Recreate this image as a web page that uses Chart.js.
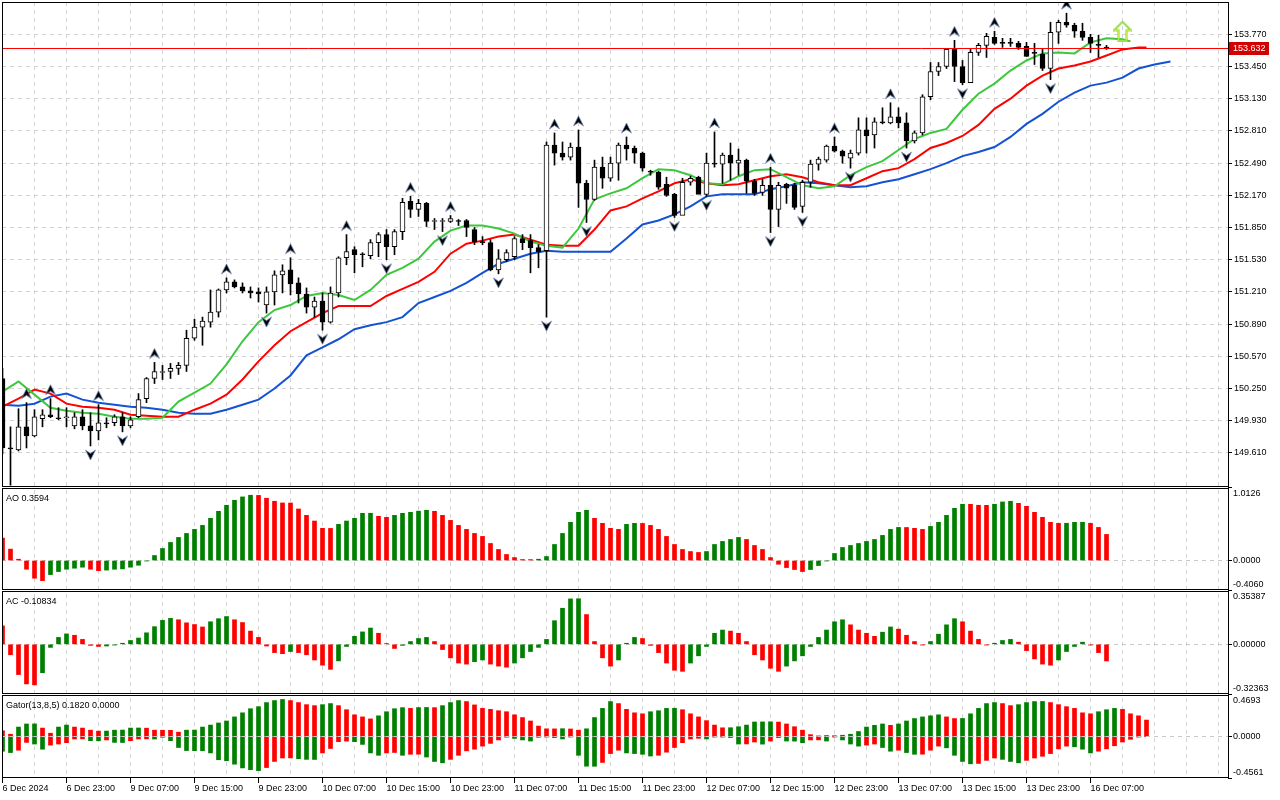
<!DOCTYPE html>
<html>
<head>
<meta charset="utf-8">
<title>USDJPY H1 - Alligator, AO, AC, Gator</title>
<script src="https://cdn.jsdelivr.net/npm/chart.js@4.4.1/dist/chart.umd.min.js"></script>
<style>
  html, body { margin: 0; padding: 0; background: #fff; }
  #wrap { width: 1280px; height: 800px; }
</style>
</head>
<body>
<div id="wrap"><canvas id="chart" width="1280" height="800"></canvas></div>
<script>
// ---- candles (H1 bars, bar 0 = 6 Dec 15:00) ----
const opens = [
  150.35, 149.66, 149.64, 149.87, 149.78, 149.95, 149.99, 149.96, 149.96, 149.88,
  149.97, 149.88, 149.83, 149.91, 149.91, 149.97, 149.88, 149.97, 150.15, 150.35,
  150.41, 150.42, 150.45, 150.48, 150.75, 150.86, 150.91, 151.01, 151.23, 151.31,
  151.26, 151.22, 151.21, 151.08, 151.21, 151.38, 151.43, 151.30, 151.19, 151.06,
  151.12, 150.91, 151.20, 151.55, 151.63, 151.59, 151.57, 151.70, 151.78, 151.66,
  151.81, 152.11, 152.03, 152.09, 151.91, 151.91, 151.91, 151.92, 151.92, 151.83,
  151.71, 151.70, 151.43, 151.53, 151.56, 151.74, 151.72, 151.65, 151.62, 152.67,
  152.59, 152.55, 152.65, 152.29, 152.13, 152.45, 152.34, 152.49, 152.67, 152.64,
  152.59, 152.405, 152.40, 152.28, 152.18, 151.97, 152.30, 152.35, 152.18, 152.49,
  152.48, 152.57, 152.49, 152.52, 152.31, 152.20, 152.27, 152.03, 152.28, 152.27,
  152.06, 152.30, 152.48, 152.52, 152.66, 152.61, 152.54, 152.59, 152.82, 152.77,
  152.90, 152.89, 152.95, 152.89, 152.71, 152.79, 153.15, 153.40, 153.45, 153.62,
  153.45, 153.29, 153.59, 153.66, 153.74, 153.685, 153.685, 153.68, 153.65, 153.585,
  153.57, 153.43, 153.79, 153.89, 153.86, 153.80, 153.74, 153.665, 153.64
];
const highs = [
  150.45, 149.87, 150.05, 150.11, 150.04, 150.04, 150.15, 150.06, 150.06, 150.01,
  150.04, 150.01, 150.09, 149.96, 149.99, 150.01, 149.97, 150.20, 150.36, 150.51,
  150.48, 150.50, 150.51, 150.83, 150.94, 150.96, 151.23, 151.24, 151.35, 151.33,
  151.30, 151.26, 151.25, 151.26, 151.42, 151.48, 151.55, 151.35, 151.25, 151.16,
  151.20, 151.26, 151.56, 151.78, 151.66, 151.60, 151.73, 151.80, 151.83, 151.83,
  152.14, 152.16, 152.13, 152.10, 151.94, 151.94, 151.97, 151.93, 151.93, 151.85,
  151.76, 151.73, 151.63, 151.63, 151.76, 151.78, 151.78, 151.68, 152.70, 152.79,
  152.70, 152.69, 152.82, 152.32, 152.52, 152.55, 152.55, 152.69, 152.75, 152.66,
  152.60, 152.42, 152.41, 152.35, 152.19, 152.34, 152.36, 152.36, 152.59, 152.80,
  152.59, 152.69, 152.63, 152.53, 152.33, 152.33, 152.45, 152.30, 152.29, 152.29,
  152.32, 152.52, 152.55, 152.67, 152.75, 152.62, 152.62, 152.94, 152.94, 152.94,
  153.04, 153.09, 153.04, 152.99, 152.81, 153.17, 153.49, 153.49, 153.63, 153.71,
  153.51, 153.62, 153.68, 153.78, 153.80, 153.73, 153.73, 153.70, 153.69, 153.68,
  153.63, 153.89, 153.91, 153.98, 153.88, 153.88, 153.77, 153.76, 153.66
];
const lows = [
  149.60, 149.29, 149.63, 149.66, 149.77, 149.87, 149.96, 149.94, 149.87, 149.85,
  149.84, 149.68, 149.74, 149.86, 149.88, 149.82, 149.86, 149.96, 150.11, 150.30,
  150.34, 150.35, 150.39, 150.42, 150.73, 150.68, 150.86, 150.96, 151.20, 151.25,
  151.20, 151.15, 151.11, 151.00, 151.08, 151.20, 151.18, 151.10, 151.00, 150.96,
  150.83, 150.90, 151.16, 151.48, 151.40, 151.46, 151.54, 151.56, 151.53, 151.58,
  151.73, 151.95, 151.96, 151.86, 151.83, 151.81, 151.90, 151.87, 151.76, 151.68,
  151.68, 151.42, 151.39, 151.51, 151.53, 151.63, 151.40, 151.45, 150.96, 152.47,
  152.52, 152.52, 152.05, 151.90, 152.12, 152.24, 152.31, 152.32, 152.52, 152.49,
  152.41, 152.37, 152.23, 152.16, 151.95, 151.98, 152.27, 152.20, 152.16, 152.45,
  152.29, 152.32, 152.37, 152.19, 152.17, 152.17, 151.80, 151.86, 152.09, 152.03,
  152.00, 152.25, 152.42, 152.50, 152.60, 152.49, 152.44, 152.57, 152.59, 152.64,
  152.88, 152.88, 152.84, 152.64, 152.69, 152.77, 153.12, 153.36, 153.43, 153.30,
  153.27, 153.30, 153.56, 153.54, 153.67, 153.64, 153.65, 153.62, 153.55, 153.47,
  153.41, 153.32, 153.68, 153.84, 153.74, 153.71, 153.59, 153.54, 153.62
];
const closes = [
  149.66, 149.65, 149.87, 149.78, 149.97, 149.99, 149.97, 149.95, 149.96, 149.97,
  149.88, 149.83, 149.91, 149.90, 149.97, 149.88, 149.94, 150.14, 150.35, 150.42,
  150.41, 150.45, 150.48, 150.75, 150.86, 150.92, 151.01, 151.23, 151.31, 151.26,
  151.22, 151.20, 151.19, 151.21, 151.38, 151.42, 151.29, 151.19, 151.06, 151.12,
  150.91, 151.20, 151.55, 151.61, 151.58, 151.58, 151.70, 151.78, 151.66, 151.81,
  152.10, 152.03, 152.09, 151.91, 151.91, 151.92, 151.94, 151.91, 151.85, 151.71,
  151.70, 151.43, 151.54, 151.60, 151.74, 151.70, 151.65, 151.61, 152.67, 152.59,
  152.55, 152.65, 152.29, 152.13, 152.45, 152.34, 152.49, 152.67, 152.63, 152.59,
  152.44, 152.40, 152.25, 152.17, 151.97, 152.30, 152.34, 152.18, 152.49, 152.48,
  152.57, 152.49, 152.52, 152.31, 152.19, 152.27, 152.03, 152.27, 152.24, 152.05,
  152.30, 152.48, 152.53, 152.66, 152.61, 152.56, 152.59, 152.82, 152.76, 152.90,
  152.89, 152.95, 152.89, 152.71, 152.79, 153.15, 153.40, 153.45, 153.62, 153.45,
  153.29, 153.59, 153.66, 153.75, 153.68, 153.68, 153.68, 153.64, 153.55, 153.58,
  153.43, 153.79, 153.89, 153.86, 153.80, 153.74, 153.68, 153.66, 153.632
];

// ---- fractals (bar numbers) ----
const fractalUpBars = [3, 6, 12, 19, 28, 36, 43, 51, 56, 69, 72, 78, 89, 96, 104, 111, 119, 124, 133];
const fractalDownBars = [1, 11, 15, 33, 40, 48, 55, 62, 68, 73, 84, 88, 96, 100, 106, 113, 120, 131];

// ---- buy signal arrow ----
const signalBars = [140];
const signalPrices = [153.80];

// ---- Alligator (read every second bar, shifted forward) ----
const jawBars = [
  0, 2, 4, 6, 8, 10, 12, 14, 16, 18, 20, 22, 24, 26, 28, 30, 32, 34, 36, 38,
  40, 42, 44, 46, 48, 50, 52, 54, 56, 58, 60, 62, 64, 66, 68, 70, 72, 74, 76, 78,
  80, 82, 84, 86, 88, 90, 92, 94, 96, 98, 100, 102, 104, 106, 108, 110, 112, 114, 116, 118,
  120, 122, 124, 126, 128, 130, 132, 134, 136, 138, 140, 142, 144, 146
];
const jawValues = [
  150.09, 150.08, 150.10, 150.17, 150.20, 150.14, 150.11, 150.09, 150.07, 150.06,
  150.04, 150.01, 150.00, 150.00, 150.04, 150.09, 150.14, 150.25, 150.38, 150.58,
  150.66, 150.74, 150.84, 150.88, 150.91, 150.96, 151.10, 151.16, 151.22, 151.30,
  151.40, 151.49, 151.54, 151.59, 151.62, 151.61, 151.61, 151.61, 151.61, 151.74,
  151.88, 151.92, 151.98, 152.06, 152.16, 152.18, 152.18, 152.18, 152.23, 152.26,
  152.30, 152.29, 152.27, 152.25, 152.26, 152.30, 152.33, 152.38, 152.43, 152.49,
  152.56, 152.60, 152.65, 152.75, 152.88, 152.98, 153.10, 153.19, 153.26, 153.29,
  153.34, 153.43, 153.47, 153.50
];
const teethBars = [
  0, 2, 4, 6, 8, 10, 12, 14, 16, 18, 20, 22, 24, 26, 28, 30, 32, 34, 36, 38,
  40, 42, 44, 46, 48, 50, 52, 54, 56, 58, 60, 62, 64, 66, 68, 70, 72, 74, 76, 78,
  80, 82, 84, 86, 88, 90, 92, 94, 96, 98, 100, 102, 104, 106, 108, 110, 112, 114, 116, 118,
  120, 122, 124, 126, 128, 130, 132, 134, 136, 138, 140, 142, 143
];
const teethValues = [
  150.07, 150.15, 150.24, 150.20, 150.10, 150.07, 150.06, 150.04, 149.99, 149.98,
  149.97, 149.97, 150.04, 150.10, 150.19, 150.34, 150.52, 150.68, 150.82, 150.91,
  151.00, 151.07, 151.07, 151.07, 151.17, 151.24, 151.31, 151.41, 151.59, 151.69,
  151.72, 151.76, 151.78, 151.73, 151.68, 151.67, 151.67, 151.83, 152.02, 152.06,
  152.14, 152.21, 152.29, 152.33, 152.29, 152.27, 152.28, 152.32, 152.36, 152.38,
  152.35, 152.30, 152.27, 152.27, 152.34, 152.41, 152.44, 152.53, 152.64, 152.69,
  152.76, 152.87, 153.03, 153.13, 153.26, 153.36, 153.43, 153.46, 153.50, 153.56,
  153.62, 153.64, 153.64
];
const lipsBars = [
  0, 2, 4, 6, 8, 10, 12, 14, 16, 18, 20, 22, 24, 26, 28, 30, 32, 34, 36, 38,
  40, 42, 44, 46, 48, 50, 52, 54, 56, 58, 60, 62, 64, 66, 68, 70, 72, 74, 76, 78,
  80, 82, 84, 86, 88, 90, 92, 94, 96, 98, 100, 102, 104, 106, 108, 110, 112, 114, 116, 118,
  120, 122, 124, 126, 128, 130, 132, 134, 136, 138, 140, 141
];
const lipsValues = [
  150.22, 150.32, 150.19, 150.06, 150.03, 150.01, 150.00, 149.97, 149.95, 149.95,
  149.96, 150.12, 150.21, 150.30, 150.49, 150.72, 150.91, 151.03, 151.08, 151.17,
  151.20, 151.18, 151.13, 151.23, 151.38, 151.45, 151.54, 151.71, 151.82, 151.87,
  151.87, 151.84, 151.79, 151.71, 151.67, 151.65, 151.84, 152.13, 152.19, 152.24,
  152.34, 152.43, 152.42, 152.37, 152.29, 152.28, 152.36, 152.42, 152.43, 152.35,
  152.27, 152.24, 152.26, 152.37, 152.45, 152.51, 152.62, 152.73, 152.79, 152.83,
  153.02, 153.18, 153.28, 153.41, 153.51, 153.58, 153.59, 153.58, 153.69, 153.73,
  153.72, 153.70
];

// ---- Awesome Oscillator ----
const aoValues = [
  0.309, 0.157, 0.018, -0.120, -0.244, -0.277, -0.194, -0.152, -0.120, -0.106,
  -0.092, -0.120, -0.140, -0.132, -0.120, -0.115, -0.092, -0.065, -0.005, 0.069,
  0.166, 0.249, 0.318, 0.373, 0.429, 0.484, 0.581, 0.678, 0.761, 0.830,
  0.876, 0.899, 0.897, 0.858, 0.816, 0.793, 0.792, 0.710, 0.622, 0.544,
  0.443, 0.442, 0.498, 0.544, 0.581, 0.650, 0.651, 0.609, 0.595, 0.622,
  0.650, 0.664, 0.680, 0.692, 0.678, 0.622, 0.553, 0.484, 0.429, 0.373,
  0.332, 0.235, 0.152, 0.083, 0.041, 0.014, 0.013, 0.018, 0.055, 0.221,
  0.373, 0.526, 0.664, 0.692, 0.581, 0.512, 0.443, 0.429, 0.498, 0.512,
  0.511, 0.484, 0.429, 0.332, 0.221, 0.152, 0.124, 0.111, 0.124, 0.221,
  0.263, 0.290, 0.318, 0.290, 0.207, 0.152, 0.041, -0.051, -0.097, -0.124,
  -0.152, -0.124, -0.069, -0.005, 0.097, 0.180, 0.207, 0.235, 0.263, 0.290,
  0.346, 0.429, 0.456, 0.455, 0.443, 0.429, 0.470, 0.526, 0.622, 0.719,
  0.775, 0.774, 0.761, 0.760, 0.775, 0.807, 0.816, 0.788, 0.747, 0.664,
  0.595, 0.526, 0.512, 0.513, 0.526, 0.527, 0.512, 0.456, 0.3594
];

// ---- Accelerator Oscillator ----
const acValues = [
  0.120, -0.068, -0.197, -0.258, -0.264, -0.185, -0.020, 0.045, 0.068, 0.059,
  0.032, -0.007, -0.014, -0.011, -0.005, 0.007, 0.025, 0.041, 0.075, 0.115,
  0.156, 0.169, 0.160, 0.140, 0.129, 0.113, 0.147, 0.167, 0.181, 0.160,
  0.142, 0.086, 0.045, -0.011, -0.054, -0.061, -0.047, -0.054, -0.068, -0.102,
  -0.136, -0.163, -0.108, -0.014, 0.052, 0.081, 0.106, 0.072, 0.005, -0.027,
  -0.007, 0.018, 0.038, 0.045, 0.018, -0.034, -0.088, -0.122, -0.129, -0.113,
  -0.102, -0.129, -0.142, -0.149, -0.122, -0.088, -0.047, -0.020, 0.032, 0.154,
  0.235, 0.296, 0.297, 0.194, 0.018, -0.088, -0.142, -0.102, 0.007, 0.045,
  0.038, -0.007, -0.054, -0.122, -0.169, -0.176, -0.122, -0.075, -0.014, 0.072,
  0.093, 0.086, 0.072, 0.018, -0.068, -0.102, -0.156, -0.176, -0.142, -0.108,
  -0.075, -0.014, 0.045, 0.093, 0.147, 0.160, 0.127, 0.093, 0.072, 0.052,
  0.079, 0.113, 0.099, 0.059, 0.018, -0.005, 0.018, 0.066, 0.127, 0.167,
  0.147, 0.086, 0.032, -0.005, 0.007, 0.025, 0.032, 0.014, -0.041, -0.095,
  -0.129, -0.136, -0.102, -0.047, -0.014, 0.014, -0.005, -0.054, -0.10834
];

// ---- Gator Oscillator (13,8,5) ----
const gatorUp = [
  0.064, 0.026, 0.105, 0.139, 0.140, 0.094, 0.037, 0.105, 0.127, 0.105,
  0.094, 0.071, 0.060, 0.061, 0.071, 0.072, 0.094, 0.095, 0.093, 0.071,
  0.070, 0.069, 0.049, 0.071, 0.072, 0.105, 0.127, 0.150, 0.172, 0.217,
  0.262, 0.307, 0.330, 0.375, 0.397, 0.409, 0.397, 0.375, 0.352, 0.341,
  0.352, 0.364, 0.341, 0.296, 0.240, 0.217, 0.195, 0.229, 0.274, 0.307,
  0.319, 0.311, 0.320, 0.321, 0.319, 0.341, 0.375, 0.397, 0.386, 0.349,
  0.311, 0.300, 0.285, 0.274, 0.240, 0.210, 0.172, 0.116, 0.086, 0.085,
  0.087, 0.084, 0.071, 0.086, 0.210, 0.311, 0.386, 0.364, 0.300, 0.262,
  0.251, 0.274, 0.285, 0.311, 0.312, 0.296, 0.251, 0.217, 0.176, 0.127,
  0.097, 0.098, 0.109, 0.127, 0.161, 0.162, 0.163, 0.160, 0.139, 0.109,
  0.071, 0.022, 0.008, 0.012, 0.010, 0.015, 0.026, 0.056, 0.105, 0.124,
  0.139, 0.124, 0.139, 0.172, 0.199, 0.217, 0.229, 0.240, 0.217, 0.199,
  0.200, 0.251, 0.311, 0.364, 0.375, 0.364, 0.341, 0.352, 0.375, 0.386,
  0.387, 0.375, 0.352, 0.330, 0.311, 0.262, 0.251, 0.274, 0.296, 0.311,
  0.300, 0.251, 0.229, 0.182
];
const gatorDown = [
  -0.161, -0.176, -0.150, -0.064, -0.082, -0.139, -0.094, -0.082, -0.067, -0.026,
  -0.025, -0.045, -0.046, -0.037, -0.064, -0.065, -0.045, -0.026, -0.025, -0.027,
  -0.008, -0.045, -0.120, -0.154, -0.155, -0.156, -0.180, -0.255, -0.266, -0.304,
  -0.345, -0.364, -0.375, -0.341, -0.274, -0.236, -0.235, -0.244, -0.251, -0.252,
  -0.180, -0.131, -0.056, -0.050, -0.056, -0.086, -0.180, -0.206, -0.180, -0.175,
  -0.206, -0.195, -0.194, -0.225, -0.274, -0.289, -0.251, -0.206, -0.157, -0.139,
  -0.105, -0.075, -0.037, -0.007, -0.020, -0.037, -0.049, -0.008, -0.004, -0.011,
  -0.026, -0.004, -0.206, -0.326, -0.327, -0.285, -0.187, -0.150, -0.180, -0.187,
  -0.195, -0.214, -0.206, -0.172, -0.120, -0.067, -0.026, -0.019, -0.026, -0.004,
  -0.002, -0.011, -0.082, -0.081, -0.060, -0.083, -0.049, -0.011, -0.049, -0.050,
  -0.068, -0.037, -0.036, -0.049, -0.001, -0.037, -0.082, -0.105, -0.094, -0.082,
  -0.120, -0.161, -0.150, -0.176, -0.195, -0.194, -0.150, -0.105, -0.124, -0.206,
  -0.274, -0.300, -0.296, -0.262, -0.236, -0.251, -0.274, -0.289, -0.262, -0.236,
  -0.217, -0.187, -0.135, -0.105, -0.112, -0.139, -0.180, -0.161, -0.135, -0.101,
  -0.060, -0.030, -0.004, 0
];

// ---- axes ----
const timeLabels = [
  '6 Dec 2024', '6 Dec 23:00', '9 Dec 07:00', '9 Dec 15:00', '9 Dec 23:00', '10 Dec 07:00',
  '10 Dec 15:00', '10 Dec 23:00', '11 Dec 07:00', '11 Dec 15:00', '11 Dec 23:00', '12 Dec 07:00',
  '12 Dec 15:00', '12 Dec 23:00', '13 Dec 07:00', '13 Dec 15:00', '13 Dec 23:00', '16 Dec 07:00'
];
const labelBars = [0, 8, 16, 24, 32, 40, 48, 56, 64, 72, 80, 88, 96, 104, 112, 120, 128, 136];
const priceTicks = [149.61, 149.93, 150.25, 150.57, 150.89, 151.21, 151.53, 151.85, 152.17, 152.49, 152.81, 153.13, 153.45, 153.77];
const aoTicks = [1.0126, 0, -0.4060];
const acTicks = [0.35387, 0, -0.32363];
const gatorTicks = [0.4693, 0, -0.4561];

const lastClose = closes[closes.length - 1];

// ---- styling ----
const GREEN = '#008000';
const RED = '#ff0000';
const GRID = '#d2d2d2';
const FONT = { family: 'Liberation Sans', size: 9 };
const FONT_CSS = '9px "Liberation Sans"';
const AXIS_W = 52;
const X_MIN = -0.0625, X_MAX = 153.1875;

Chart.defaults.font.family = FONT.family;
Chart.defaults.font.size = FONT.size;
Chart.defaults.color = '#000';

function histColor(values, first, useAbs) {
  return ctx => {
    const i = ctx.dataIndex;
    if (i === 0) return first;
    const a = useAbs ? Math.abs(values[i]) : values[i];
    const b = useAbs ? Math.abs(values[i - 1]) : values[i - 1];
    return a > b ? GREEN : RED;
  };
}

function fractalArrow(up) {
  const c = document.createElement('canvas');
  c.width = 11; c.height = 44;
  const g = c.getContext('2d');
  const t = up ? 8 : 26;
  g.beginPath();
  if (up) {
    g.moveTo(5.5, t); g.lineTo(10.5, t + 10); g.lineTo(5.5, t + 6.5); g.lineTo(0.5, t + 10);
  } else {
    g.moveTo(5.5, t + 10); g.lineTo(10.5, t); g.lineTo(5.5, t + 3.5); g.lineTo(0.5, t);
  }
  g.closePath();
  g.fillStyle = '#000';
  g.fill();
  g.strokeStyle = 'rgba(110,140,190,0.9)';
  g.lineWidth = 0.8;
  g.stroke();
  return c;
}

function signalArrow() {
  const c = document.createElement('canvas');
  c.width = 19; c.height = 21;
  const g = c.getContext('2d');
  g.beginPath();
  g.moveTo(9.5, 1); g.lineTo(18, 9.5); g.lineTo(13.5, 9.5); g.lineTo(13.5, 20);
  g.lineTo(5.5, 20); g.lineTo(5.5, 9.5); g.lineTo(1, 9.5);
  g.closePath();
  g.lineWidth = 2; g.strokeStyle = '#7ad83c'; g.stroke();
  g.lineWidth = 0.7; g.strokeStyle = '#e6f25a'; g.stroke();
  return c;
}

function fixBox(w, h) {
  return s => {
    if (w != null) s.width = w;
    if (h != null) s.height = h;
    s.paddingLeft = 0; s.paddingRight = 0; s.paddingTop = 0; s.paddingBottom = 0;
  };
}

function subScale(weight, min, max, ticks, zLine) {
  return {
    type: 'linear', position: 'right', stack: 'panes', stackWeight: weight,
    min: min, max: max, bounds: 'data', offset: false,
    afterBuildTicks: s => { s.ticks = ticks.map(v => ({ value: v })); },
    ticks: { display: false },
    grid: {
      color: ctx => (ctx.tick && ctx.tick.value === 0 ? '#c8c8c8' : 'rgba(0,0,0,0)'),
      tickLength: 4, tickColor: '#000', z: zLine
    },
    border: { display: false, dash: [4, 4] },
    afterFit: fixBox(AXIS_W, null)
  };
}

// draws frames, titles, sub-axis labels and the current price
const mtPanels = {
  id: 'mtPanels',
  beforeDatasetDraw(chart, args) {
    const s = args.meta.yScale, a = chart.chartArea, ctx = chart.ctx;
    ctx.save();
    ctx.beginPath();
    ctx.rect(a.left, s.top, a.right - a.left, s.bottom - s.top);
    ctx.clip();
  },
  afterDatasetDraw(chart) {
    chart.ctx.restore();
  },
  afterDatasetsDraw(chart) {
    const ctx = chart.ctx, a = chart.chartArea;
    const y = Math.round(chart.scales.y.getPixelForValue(lastClose)) + 0.5;
    ctx.save();
    ctx.setLineDash([]);
    ctx.strokeStyle = '#ff0000';
    ctx.lineWidth = 1;
    ctx.beginPath(); ctx.moveTo(a.left, y); ctx.lineTo(a.right, y); ctx.stroke();
    ctx.restore();
  },
  afterDraw(chart) {
    const ctx = chart.ctx, a = chart.chartArea, sc = chart.scales;
    const panes = [sc.y, sc.yAO, sc.yAC, sc.yGator];
    ctx.save();
    ctx.setLineDash([]);
    ctx.fillStyle = '#fff';
    for (let i = 1; i < panes.length; i++) ctx.fillRect(0, panes[i].top, a.right, 1);
    ctx.strokeStyle = '#000';
    ctx.lineWidth = 1;
    panes.forEach((s, i) => {
      const top = i === 0 ? s.top : s.top + 1;
      ctx.strokeRect(a.left + 0.5, top + 0.5, a.right - a.left, s.bottom - 1 - top);
    });

    ctx.font = FONT_CSS;
    ctx.fillStyle = '#000';
    ctx.textAlign = 'left';
    ctx.textBaseline = 'alphabetic';
    ctx.fillText('AO ' + aoValues[aoValues.length - 1].toFixed(4), 6, sc.yAO.top + 14);
    ctx.fillText('AC ' + acValues[acValues.length - 1].toFixed(5), 6, sc.yAC.top + 14);
    ctx.fillText('Gator(13,8,5) ' + gatorUp[gatorUp.length - 1].toFixed(4) + ' ' +
      Math.abs(gatorDown[gatorDown.length - 1]).toFixed(4), 6, sc.yGator.top + 14);

    ctx.textBaseline = 'middle';
    [[sc.yAO, aoTicks, 4], [sc.yAC, acTicks, 5], [sc.yGator, gatorTicks, 4]].forEach(([s, ticks, dec]) => {
      ticks.forEach(v => {
        let y = s.getPixelForValue(v);
        y = Math.min(Math.max(y, s.top + 6.5), s.bottom - 5);
        ctx.fillText(v.toFixed(dec), a.right + 5, y);
      });
    });

    const py = Math.round(sc.y.getPixelForValue(lastClose));
    ctx.fillStyle = '#d00000';
    ctx.fillRect(a.right + 1, py - 6, 40, 13);
    ctx.fillStyle = '#fff';
    ctx.fillText(lastClose.toFixed(3), a.right + 5, py + 0.5);
    ctx.restore();
  }
};

const upArrow = fractalArrow(true);
const downArrow = fractalArrow(false);

new Chart(document.getElementById('chart'), {
  type: 'bar',
  data: {
    datasets: [
      {
        type: 'line', label: 'signal', order: 0, yAxisID: 'y', showLine: false,
        data: signalBars.map((k, i) => ({ x: k, y: signalPrices[i] })),
        pointStyle: signalArrow(), pointRadius: 6
      },
      {
        type: 'line', label: 'fractal up', order: 0, yAxisID: 'y', showLine: false,
        data: fractalUpBars.map(k => ({ x: k, y: highs[k] })),
        pointStyle: upArrow, pointRadius: 5
      },
      {
        type: 'line', label: 'fractal down', order: 0, yAxisID: 'y', showLine: false,
        data: fractalDownBars.map(k => ({ x: k, y: lows[k] })),
        pointStyle: downArrow, pointRadius: 5
      },
      {
        label: 'bodies', order: 1, yAxisID: 'y', grouped: false,
        data: opens.map((o, i) => ({ x: i, y: [o, closes[i]] })),
        backgroundColor: ctx => (closes[ctx.dataIndex] >= opens[ctx.dataIndex] ? '#fff' : '#000'),
        borderColor: '#000', borderWidth: 1, borderSkipped: false,
        barThickness: 5, minBarLength: 1
      },
      {
        label: 'wicks', order: 2, yAxisID: 'y', grouped: false,
        data: lows.map((l, i) => ({ x: i, y: [l, highs[i]] })),
        backgroundColor: '#000', borderWidth: 0, barThickness: 1
      },
      {
        type: 'line', label: 'Lips', order: 3, yAxisID: 'y',
        data: lipsBars.map((k, i) => ({ x: k, y: lipsValues[i] })),
        borderColor: '#3cc83c', borderWidth: 2, pointRadius: 0, tension: 0, fill: false
      },
      {
        type: 'line', label: 'Teeth', order: 4, yAxisID: 'y',
        data: teethBars.map((k, i) => ({ x: k, y: teethValues[i] })),
        borderColor: '#ff0000', borderWidth: 2, pointRadius: 0, tension: 0, fill: false
      },
      {
        type: 'line', label: 'Jaw', order: 5, yAxisID: 'y',
        data: jawBars.map((k, i) => ({ x: k, y: jawValues[i] })),
        borderColor: '#1452d4', borderWidth: 2, pointRadius: 0, tension: 0, fill: false
      },
      {
        label: 'AO', order: 1, yAxisID: 'yAO', grouped: false,
        data: aoValues.map((v, i) => ({ x: i, y: v })),
        backgroundColor: histColor(aoValues, RED, false), borderWidth: 0, barThickness: 4
      },
      {
        label: 'AC', order: 1, yAxisID: 'yAC', grouped: false,
        data: acValues.map((v, i) => ({ x: i, y: v })),
        backgroundColor: histColor(acValues, RED, false), borderWidth: 0, barThickness: 4
      },
      {
        label: 'Gator up', order: 1, yAxisID: 'yGator', grouped: false,
        data: gatorUp.map((v, i) => ({ x: i, y: v })),
        backgroundColor: histColor(gatorUp, RED, true), borderWidth: 0, barThickness: 4
      },
      {
        label: 'Gator down', order: 1, yAxisID: 'yGator', grouped: false,
        data: gatorDown.map((v, i) => ({ x: i, y: v })),
        backgroundColor: histColor(gatorDown, GREEN, true), borderWidth: 0, barThickness: 4
      }
    ]
  },
  options: {
    responsive: false,
    animation: false,
    devicePixelRatio: 1,
    events: [],
    layout: { autoPadding: false, padding: { left: 2, top: 2, right: 0, bottom: 0 } },
    plugins: { legend: { display: false }, tooltip: { enabled: false } },
    scales: {
      x: {
        type: 'linear', position: 'bottom', min: X_MIN, max: X_MAX, bounds: 'data',
        offset: false,
        afterBuildTicks: s => {
          const t = [];
          for (let k = 0; k <= 152; k += 4) t.push({ value: k });
          s.ticks = t;
        },
        ticks: {
          autoSkip: false, maxRotation: 0, minRotation: 0, align: 'start', padding: 0,
          font: FONT, color: '#000',
          callback: v => {
            const i = labelBars.indexOf(v);
            return i >= 0 ? timeLabels[i] : '';
          }
        },
        grid: {
          offset: false, color: GRID, tickLength: 5,
          tickColor: ctx => (ctx.tick && labelBars.indexOf(ctx.tick.value) >= 0 ? '#000' : 'rgba(0,0,0,0)')
        },
        border: { display: false, dash: [4, 4] },
        afterFit: fixBox(null, 22)
      },
      y: {
        type: 'linear', position: 'right', stack: 'panes', stackWeight: 485,
        min: 149.272, max: 154.091, bounds: 'data', offset: false,
        afterBuildTicks: s => { s.ticks = priceTicks.map(v => ({ value: v })); },
        ticks: { font: FONT, color: '#000', padding: 2, autoSkip: false, callback: v => Number(v).toFixed(3) },
        grid: { color: GRID, tickLength: 4, tickColor: '#000' },
        border: { display: false, dash: [4, 4] },
        afterFit: fixBox(AXIS_W, null)
      },
      yAO: subScale(103, -0.4060, 1.0126, aoTicks, 0),
      yAC: subScale(104, -0.32363, 0.35387, acTicks, 0),
      yGator: subScale(84, -0.4561, 0.4693, gatorTicks, 1)
    }
  },
  plugins: [mtPanels]
});
</script>
</body>
</html>
